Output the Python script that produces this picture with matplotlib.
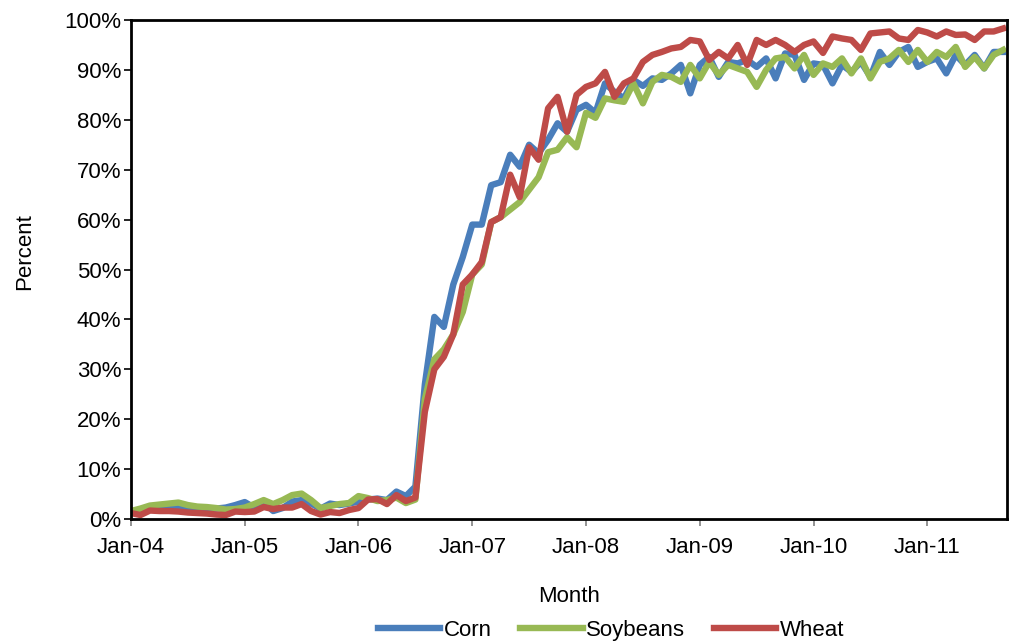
import matplotlib
matplotlib.use("Agg")
import matplotlib.pyplot as plt

plt.rcParams['font.family'] = ['Liberation Sans', 'DejaVu Sans']

# monthly share (%), Jan-04 .. Sep-11
corn = [1.5, 1.7, 2.0, 2.1, 2.1, 2.2, 2.1, 2.0, 2.0, 2.1, 2.3, 2.8,
        3.4, 2.3, 3.4, 1.6, 2.2, 3.5, 3.8, 3.1, 2.1, 3.1, 2.8, 3.1,
        3.5, 3.9, 4.1, 3.8, 5.5, 4.6, 6.5, 27.0, 40.5, 38.5, 47.0, 52.5,
        59.0, 59.0, 66.9, 67.5, 73.0, 70.6, 75.0, 73.3, 76.0, 79.3, 77.6, 82.0,
        83.0, 81.4, 87.3, 85.6, 84.3, 88.0, 86.8, 88.3, 88.0, 89.3, 91.0, 85.3,
        91.0, 92.6, 88.6, 91.6, 91.3, 92.0, 90.6, 92.3, 88.3, 93.3, 93.0, 88.0,
        91.3, 91.0, 87.3, 91.0, 89.6, 91.6, 88.6, 93.6, 91.0, 93.6, 94.6, 90.6,
        91.6, 92.3, 89.3, 93.0, 91.0, 93.0, 90.3, 93.6, 93.6]
soybeans = [1.6, 2.1, 2.7, 2.9, 3.1, 3.3, 2.8, 2.5, 2.4, 2.2, 1.9, 2.0,
            2.3, 3.0, 3.8, 3.0, 3.8, 4.8, 5.1, 3.8, 2.2, 2.6, 3.0, 3.2,
            4.6, 4.2, 3.6, 3.8, 4.3, 3.2, 3.9, 24.0, 32.0, 34.0, 37.0, 41.5,
            49.0, 51.0, 59.5, 60.5, 62.0, 63.5, 66.0, 68.5, 73.5, 74.0, 76.5, 74.5,
            81.4, 80.4, 84.3, 83.9, 83.6, 87.3, 83.3, 87.6, 89.0, 88.6, 87.6, 91.0,
            88.3, 91.6, 89.0, 91.0, 90.3, 89.6, 86.6, 90.0, 92.3, 92.6, 90.3, 93.0,
            89.0, 91.3, 90.6, 92.3, 89.3, 92.3, 88.3, 91.6, 92.3, 94.0, 91.6, 94.0,
            91.6, 93.6, 92.6, 94.6, 90.6, 92.6, 90.3, 93.0, 94.0]
wheat = [1.2, 0.8, 1.7, 1.6, 1.6, 1.5, 1.3, 1.2, 1.1, 0.9, 0.8, 1.5,
         1.4, 1.5, 2.4, 2.0, 2.3, 2.3, 3.0, 1.6, 0.9, 1.4, 1.2, 1.8,
         2.2, 3.9, 4.0, 3.0, 4.8, 3.6, 4.3, 21.5, 30.0, 32.5, 37.0, 47.0,
         49.0, 51.5, 59.5, 60.5, 69.0, 64.5, 74.5, 72.0, 82.3, 84.6, 77.6, 85.0,
         86.6, 87.3, 89.6, 84.6, 87.3, 88.3, 91.6, 93.0, 93.6, 94.3, 94.6, 96.0,
         95.7, 92.0, 93.6, 92.3, 95.0, 91.0, 96.0, 95.0, 96.0, 95.0, 93.6, 95.0,
         95.7, 93.4, 96.7, 96.3, 96.0, 94.0, 97.3, 97.5, 97.7, 96.3, 96.0, 98.0,
         97.5, 96.7, 97.7, 97.0, 97.1, 96.0, 97.7, 97.7, 98.3]
year_labels = ["Jan-04", "Jan-05", "Jan-06", "Jan-07", "Jan-08", "Jan-09", "Jan-10", "Jan-11"]

months = list(range(len(wheat)))

fig = plt.figure(figsize=(10.13, 6.43), dpi=100)
ax = fig.add_axes([0.1293, 0.1928, 0.8647, 0.7761])

ax.plot(months, corn, color='#4A7EBB', lw=4.6, label='Corn', solid_joinstyle='round')
ax.plot(months, soybeans, color='#98B954', lw=4.6, label='Soybeans', solid_joinstyle='round')
ax.plot(months, wheat, color='#BE4B48', lw=4.6, label='Wheat', solid_joinstyle='round')

ax.set_xlim(0, 92.4)
ax.set_ylim(0, 100)
ax.set_yticks(range(0, 101, 10))
ax.set_yticklabels([f"{v}%" for v in range(0, 101, 10)], fontsize=16)
ax.set_xticks(range(0, 12 * len(year_labels), 12))
ax.set_xticklabels(year_labels, fontsize=16)
ax.tick_params(axis='y', direction='out', length=5, width=1.2, pad=2)
ax.tick_params(axis='x', direction='out', length=5, width=1.2, color='#808080', pad=8)

for s in ax.spines.values():
    s.set_linewidth(2)
    s.set_color('black')

ax.set_xlabel('Month', fontsize=16, labelpad=20)
ax.set_ylabel('Percent', fontsize=16)
ax.yaxis.set_label_coords(-0.110, 0.535)

ax.legend(loc='upper center', bbox_to_anchor=(0.548, -0.185), ncol=3, frameon=False,
          fontsize=16, handlelength=2.8, handletextpad=0.15, columnspacing=1.3,
          borderaxespad=0)

fig.savefig('out.png', dpi=100)
